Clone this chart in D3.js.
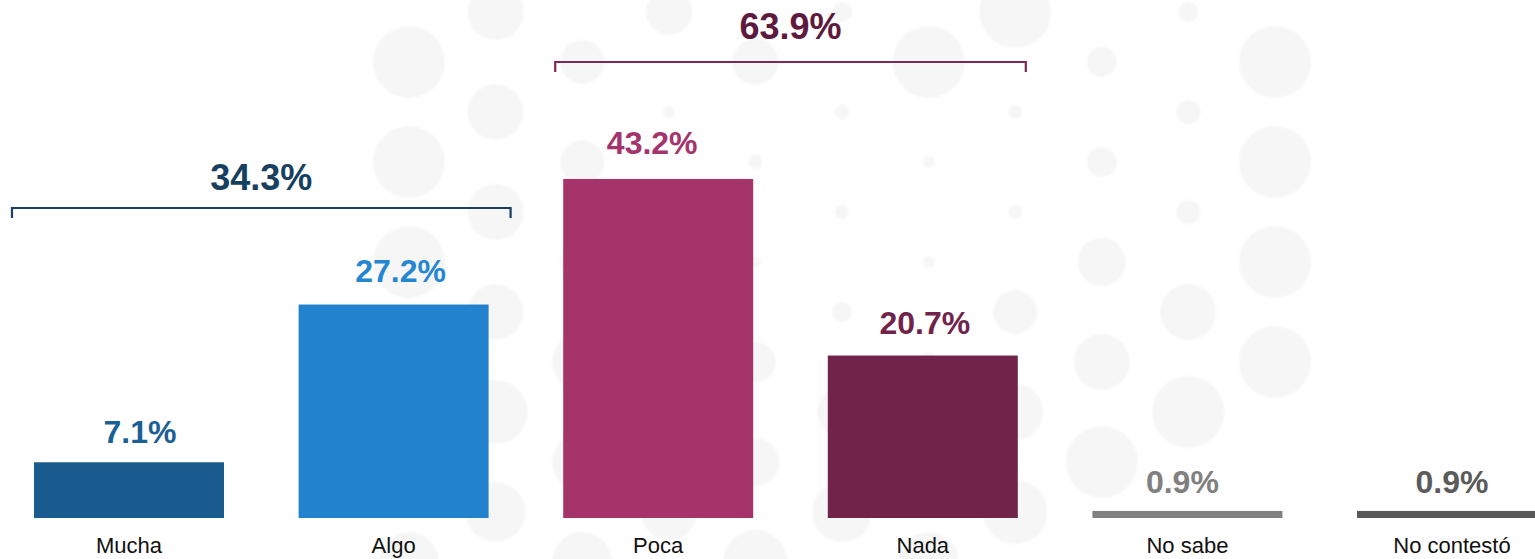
<!DOCTYPE html>
<html>
<head>
<meta charset="utf-8">
<script src="https://cdn.jsdelivr.net/npm/d3@7"></script>
<style>
  html, body { margin: 0; padding: 0; background: #ffffff; }
  svg { display: block; font-family: "Liberation Sans", Arial, sans-serif; }
</style>
</head>
<body>
<svg id="chart" width="1535" height="559"></svg>
<script>
// ---- data ----
const categories = ["Mucha", "Algo", "Poca", "Nada", "No sabe", "No contestó"];
const values = [7.1, 27.2, 43.2, 20.7, 0.9, 0.9];
const valueLabels = ["7.1%", "27.2%", "43.2%", "20.7%", "0.9%", "0.9%"];
const barColors = ["#195b8e", "#2282ce", "#a4346a", "#71234a", "#808080", "#595959"];
const labelColors = ["#1c5f95", "#2586d2", "#a4346b", "#71234a", "#808080", "#5b5b5b"];
const groupLabels = ["34.3%", "63.9%"];
const groupMembers = [["Mucha", "Algo"], ["Poca", "Nada"]];
const groupTextColors = ["#173f5f", "#5e1a3e"];
const groupLineColors = ["#1a3f5f", "#7d2856"];

// ---- layout constants (not data) ----
const labelNudge = [11, 7, -6, 2, -5, 0];
const groupLayout = [
  { ext: 22, lineY: 208, textY: 190 },
  { ext: 8, lineY: 62, textY: 39 }
];

// ---- decorative background (halftone dots) ----
const dotRadiiEven = [
  [36, 36, 36, 30, 30, 30],
  [22, 22, 22, 30, 30, 30],
  [23, 7, 6, 20, 24, 32],
  [36, 6, 6, 10, 20, 30],
  [15, 15, 24, 28, 36, 0],
  [36, 36, 36, 36, 0, 0]
];
const dotRadiiOdd = [
  [28, 28, 28, 28, 32, 30],
  [23, 6, 6, 10, 20, 28],
  [10, 7, 7, 10, 25, 30],
  [36, 7, 7, 22, 28, 32],
  [10, 12, 12, 28, 36, 0]
];

const svg = d3.select("#chart");

const defs = svg.append("defs");
defs.append("filter").attr("id", "soft")
  .append("feGaussianBlur").attr("stdDeviation", 1.2);
const bg = svg.append("g");
const dots = [];
for (let i = 0; i < 11; i++) {
  const cx = 409 + 86.6 * i;
  const even = i % 2 === 0;
  const radii = even ? dotRadiiEven[i / 2] : dotRadiiOdd[(i - 1) / 2];
  radii.forEach((r, j) => {
    if (r > 0) dots.push({ cx, cy: (even ? 62 : 12) + 100 * j, r });
  });
}
bg.selectAll("circle").data(dots).join("circle")
  .attr("cx", d => d.cx).attr("cy", d => d.cy).attr("r", d => d.r)
  .attr("fill", "#f6f6f6").attr("filter", "url(#soft)");

// ---- scales ----
const x = d3.scaleBand()
  .domain(categories)
  .range([34, 34 + 5 * 264.6 + 190])
  .paddingInner(0.282)
  .paddingOuter(0);

const y = d3.scaleLinear().domain([0, 66]).range([518, 0]);

const data = categories.map((c, i) => ({ c, i, v: values[i], lab: valueLabels[i], col: barColors[i], lcol: labelColors[i] }));

// bars
svg.append("g").selectAll("rect").data(data).join("rect")
  .attr("x", d => x(d.c))
  .attr("y", d => y(d.v))
  .attr("width", x.bandwidth())
  .attr("height", d => y(0) - y(d.v))
  .attr("fill", d => d.col);

// value labels
svg.append("g").selectAll("text").data(data).join("text")
  .attr("x", d => x(d.c) + x.bandwidth() / 2 + labelNudge[d.i])
  .attr("y", d => y(d.v) - (17.8 + 0.166 * d.v))
  .attr("text-anchor", "middle")
  .attr("font-size", 32)
  .attr("font-weight", "bold")
  .attr("fill", d => d.lcol)
  .text(d => d.lab);

// category axis
const xAxis = d3.axisBottom(x).tickSize(0).tickPadding(0);
const axG = svg.append("g").attr("transform", `translate(0, ${y(0)})`).call(xAxis);
axG.select(".domain").remove();
axG.selectAll("text")
  .attr("y", 35)
  .attr("dy", 0)
  .attr("font-size", 22)
  .attr("font-family", "'Liberation Sans', Arial, sans-serif")
  .attr("fill", "#111111");

// group brackets
groupMembers.forEach((mem, gi) => {
  const L = groupLayout[gi];
  const x0 = x(mem[0]) - L.ext;
  const x1 = x(mem[mem.length - 1]) + x.bandwidth() + L.ext;
  const g = svg.append("g");
  g.append("path")
    .attr("d", `M${x0},${L.lineY + 10} L${x0},${L.lineY} L${x1},${L.lineY} L${x1},${L.lineY + 10}`)
    .attr("fill", "none")
    .attr("stroke", groupLineColors[gi])
    .attr("stroke-width", 2.2);
  g.append("text")
    .attr("x", (x0 + x1) / 2)
    .attr("y", L.textY)
    .attr("text-anchor", "middle")
    .attr("font-size", 36)
    .attr("font-weight", "bold")
    .attr("fill", groupTextColors[gi])
    .text(groupLabels[gi]);
});
</script>
</body>
</html>
